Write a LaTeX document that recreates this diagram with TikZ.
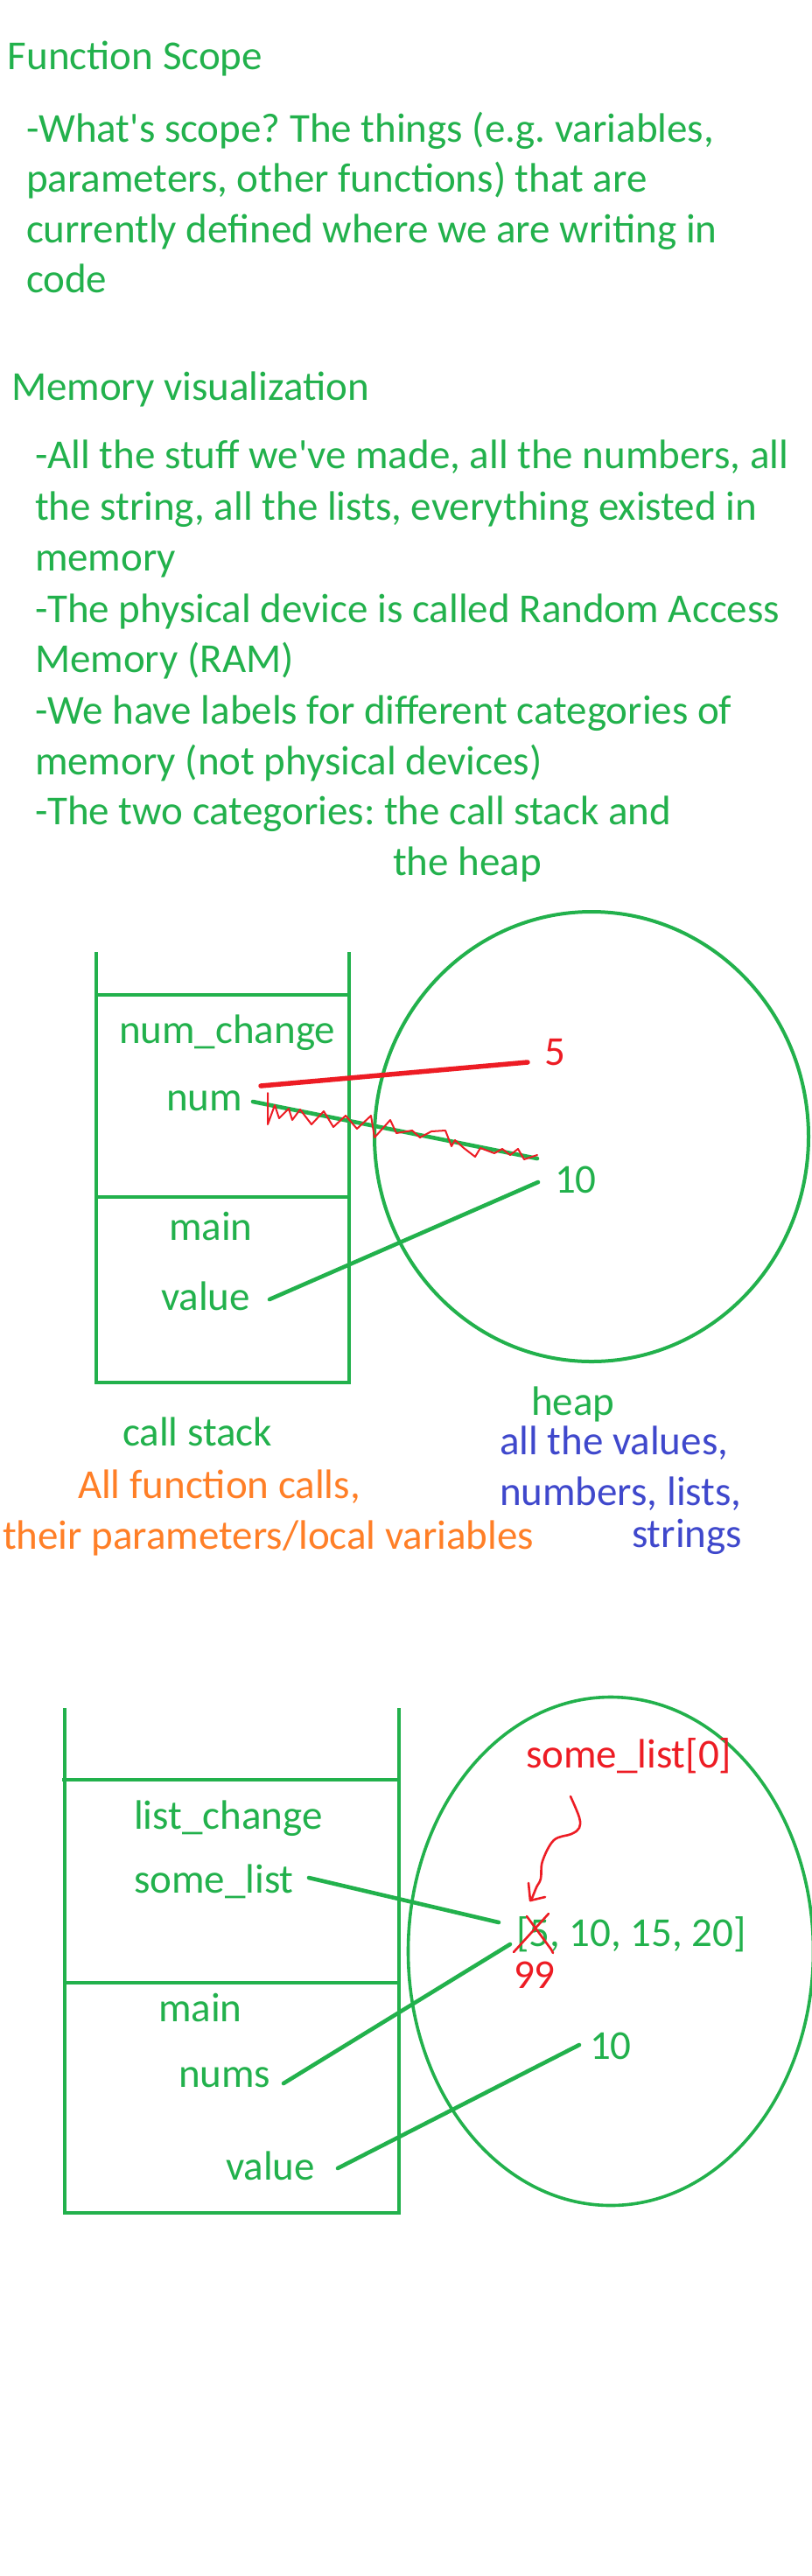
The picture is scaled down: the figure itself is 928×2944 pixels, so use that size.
\documentclass[tikz,border=0pt]{standalone}
\usepackage{fontspec}
\setmainfont{Carlito}[Ligatures=TeXOff]
\usetikzlibrary{shapes.geometric,calc}
\definecolor{pgreen}{HTML}{22B14C}
\definecolor{pred}{HTML}{ED1C24}
\definecolor{porange}{HTML}{FF7F27}
\definecolor{pblue}{HTML}{3F48CC}
\frenchspacing
\begin{document}
\begin{tikzpicture}[x=1pt,y=-1pt,
  txt/.style={anchor=base west, inner sep=0pt, outer sep=0pt, font=\fontsize{47}{57}\selectfont\frenchspacing, text=pgreen},
  redtxt/.style={txt, text=pred},
  orangetxt/.style={txt, text=porange},
  bluetxt/.style={txt, text=pblue},
  stk/.style={draw=pgreen, line width=4.6pt},
  heapshape/.style={ellipse, draw=pgreen, line width=4pt, inner sep=0pt},
  link/.style={draw=pgreen, line width=4.6pt, line cap=round},
  redlink/.style={draw=pred, line width=5.5pt, line cap=round},
  scribble/.style={draw=pred, line width=2pt, line join=round, line cap=round}]
\useasboundingbox[fill=white] (0,0) rectangle (928,2944);

% ---------- text block 1
\node[txt] (title1) at (9,80) {Function Scope};
\node[txt] (s1a) at (30,162) {-What's scope? The things (e.g. variables,};
\node[txt] (s1b) at (30,219) {parameters, other functions) that are};
\node[txt] (s1c) at (30,277) {currently defined where we are writing in};
\node[txt] (s1d) at (30,334) {code};

% ---------- text block 2
\node[txt] (title2) at (13,457) {Memory visualization};
\node[txt] (m1) at (40,535) {-All the stuff we've made, all the numbers, all};
\node[txt] (m2) at (40,594) {the string, all the lists, everything existed in};
\node[txt] (m3) at (40,652) {memory};
\node[txt] (m4) at (40,711) {-The physical device is called Random Access};
\node[txt] (m5) at (40,768) {Memory (RAM)};
\node[txt] (m6) at (40,827) {-We have labels for different categories of};
\node[txt] (m7) at (40,885) {memory (not physical devices)};
\node[txt] (m8) at (40,942) {-The two categories: the call stack and};
\node[txt] (m9) at (449,1000) {the heap};

% ---------- diagram 1
\draw[stk] (110,1088) -- (110,1580) -- (399,1580) -- (399,1088);
\draw[stk] (110,1137) -- (399,1137);
\draw[stk] (110,1368) -- (401,1368);
\node[heapshape, minimum width=496pt, minimum height=514pt] (heapA) at (676,1299) {};

\node[txt] (fnA) at (136,1192) {num\_change};
\node[txt] (num) at (190,1269) {num};
\node[txt] (mainA) at (193,1417) {main};
\node[txt] (valueA) at (184,1497) {value};
\node[redtxt] (five) at (622,1217) {5};
\node[txt] (tenA) at (634,1363) {10};
\node[txt] (heapLbl) at (607,1617) {heap};
\node[txt] (callstack) at (140,1652) {call stack};
\node[bluetxt] (b1) at (571,1662) {all the values,};
\node[orangetxt] (o1) at (89,1712) {All function calls,};
\node[bluetxt] (b2) at (571,1720) {numbers, lists,};
\node[orangetxt] (o2) at (3,1770) {their parameters/local variables};
\node[bluetxt] (b3) at (722,1768) {strings};

\coordinate (numR) at (298,1241);
\coordinate (fiveL) at (603,1214);
\coordinate (numG) at (289,1259);
\coordinate (tenAend) at (614,1324);
\coordinate (valAs) at (308,1485);
\coordinate (valAe) at (615,1351);
\draw[link] (numG) -- (tenAend);
\draw[redlink] (numR) -- (fiveL);
\draw[link] (valAs) -- (valAe);
\draw[scribble] plot coordinates {(306,1249) (306,1285) (314,1263) (319,1278) (330,1267) (334,1280) (343,1268) (356,1285) (370,1270) (381,1288) (395,1275) (408,1290) (424,1275) (428,1300) (446,1280) (453,1295) (471,1292) (480,1300) (493,1293) (509,1292) (516,1310) (520,1303) (530,1312) (543,1322) (549,1312) (565,1318) (574,1313) (583,1320) (592,1313) (599,1325) (614,1320)};

% ---------- diagram 2
\draw[stk] (74,1952) -- (74,2529) -- (456,2529) -- (456,1952);
\draw[stk] (71,2034) -- (456,2034);
\draw[stk] (74,2266) -- (458,2266);
\node[heapshape, line width=3.6pt, minimum width=463pt, minimum height=581pt] (heapB) at (698,2230) {};

\node[txt] (fnB) at (153,2090) {list\_change};
\node[txt] (somelist) at (153,2163) {some\_list};
\node[txt] (mainB) at (181,2310) {main};
\node[txt] (nums) at (204,2385) {nums};
\node[txt] (valueB) at (258,2491) {value};
\node[redtxt] (idx) at (601,2020) {some\_list[0]};
\node[txt] (list) at (590,2224) {[5, 10, 15, 20]};
\node[txt] (tenB) at (674,2353) {10};
\node[redtxt] (ninetynine) at (587,2272) {99};

\coordinate (slS) at (353,2146);
\coordinate (slE) at (570,2197);
\coordinate (nmS) at (324,2381);
\coordinate (nmE) at (583,2222);
\coordinate (vbS) at (386,2478);
\coordinate (vbE) at (662,2337);
\draw[link] (slS) -- (slE);
\draw[link] (nmS) -- (nmE);
\draw[link] (vbS) -- (vbE);

% red hand-drawn arrow and cross-out
\draw[scribble, line width=2.6pt] plot[smooth, tension=0.6] coordinates {(652,2053) (662,2077) (662,2089) (653,2096) (633,2103) (620,2127) (618,2147) (613,2157) (607,2172)};
\draw[scribble, line width=2.6pt] (604,2152) -- (606,2172) -- (623,2168);
\draw[scribble, line width=2.6pt] (587,2231) -- (627,2187);
\draw[scribble, line width=2.6pt] (602,2190) -- (630,2228) -- (632,2232);
\end{tikzpicture}
\end{document}
